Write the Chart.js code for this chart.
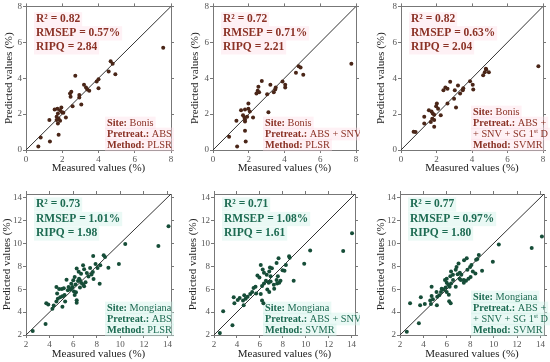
<!DOCTYPE html>
<html>
<head>
<meta charset="utf-8">
<script src="https://cdn.jsdelivr.net/npm/chart.js@4.4.1/dist/chart.umd.min.js"></script>
<style>
  html, body { margin: 0; padding: 0; background: #fff; }
  body { position: relative; width: 550px; height: 362px; overflow: hidden; }
  canvas { position: absolute; }
</style>
</head>
<body>
<canvas id="c1"></canvas>
<canvas id="c2"></canvas>
<canvas id="c3"></canvas>
<canvas id="c4"></canvas>
<canvas id="c5"></canvas>
<canvas id="c6"></canvas>
<script>
// axes
const bonisTicks = [0, 2, 4, 6, 8];
const bonisRange = [0, 8];
const mongianaTicks = [2, 4, 6, 8, 10, 12, 14];
const mongianaRange = [2, 14.3];

// Bonis - PLSR - ABS
const bonisPlsrAbsMeasured = [7.57, 4.67, 4.78, 4.93, 4.56, 4.0, 3.9, 4.0, 3.31, 3.38, 3.49, 3.2, 2.72, 2.94, 2.94, 2.5, 2.43, 2.46, 2.57, 3.05, 2.2, 1.95, 1.88, 1.99, 2.06, 1.58, 1.73, 1.76, 1.69, 1.8, 1.69, 1.88, 1.76, 1.29, 1.8, 1.32, 0.81, 0.68];
const bonisPlsrAbsPredicted = [5.7, 4.94, 4.81, 4.22, 4.37, 3.94, 3.81, 3.44, 3.48, 3.37, 3.3, 3.63, 4.13, 3.07, 2.93, 3.24, 3.15, 2.96, 2.44, 2.54, 1.81, 2.37, 2.22, 2.11, 2.07, 2.26, 2.3, 2.04, 1.85, 1.74, 1.67, 1.63, 1.48, 1.67, 0.85, 0.48, 0.69, 0.19];

// Bonis - PLSR - ABS + SNV
const bonisPlsrSnvMeasured = [7.74, 4.79, 4.9, 4.64, 5.05, 4.04, 4.04, 3.89, 3.51, 3.48, 3.4, 3.21, 2.73, 2.54, 2.5, 2.43, 2.58, 3.03, 3.1, 2.24, 1.98, 1.98, 2.06, 1.79, 1.57, 1.68, 1.76, 1.79, 1.91, 1.79, 1.31, 1.79, 1.83, 0.9, 1.35];
const bonisPlsrSnvPredicted = [4.81, 4.67, 4.59, 4.3, 4.19, 3.48, 3.63, 3.81, 3.48, 3.37, 3.22, 3.63, 3.85, 3.52, 3.3, 3.15, 3.22, 3.11, 2.11, 1.81, 2.59, 2.3, 2.15, 2.26, 2.22, 1.93, 1.81, 1.7, 1.85, 1.59, 1.63, 1.07, 0.48, 0.74, 0.19];

// Bonis - SVMR - ABS + SNV + SG 1st D
const bonisSvmrSgMeasured = [7.74, 4.63, 4.72, 4.8, 4.95, 4.78, 3.89, 4.04, 4.07, 3.51, 3.48, 3.21, 3.03, 3.33, 2.77, 2.5, 2.62, 2.39, 2.99, 2.62, 3.1, 2.24, 2.02, 1.98, 2.09, 1.57, 1.72, 1.79, 1.87, 1.76, 1.87, 1.68, 1.31, 1.31, 1.87, 0.71, 0.82];
const bonisSvmrSgPredicted = [4.67, 4.17, 4.33, 4.48, 4.33, 4.52, 3.83, 3.63, 3.37, 3.44, 3.33, 3.59, 3.33, 3.15, 3.8, 3.48, 3.41, 3.33, 2.85, 2.59, 2.37, 1.94, 2.59, 2.44, 2.3, 2.22, 2.15, 2.04, 1.96, 1.74, 1.67, 1.56, 1.85, 1.48, 1.3, 1.02, 1.0];

// Mongiana - PLSR - ABS
const mongianaPlsrAbsMeasured = [14.09, 13.23, 10.42, 9.88, 8.59, 8.7, 8.99, 8.3, 7.7, 7.9, 8.07, 7.44, 7.67, 7.56, 7.73, 8.25, 6.84, 6.93, 7.16, 6.67, 6.3, 6.47, 6.13, 6.58, 6.41, 6.7, 6.93, 6.58, 6.01, 5.84, 5.61, 5.95, 5.78, 6.07, 6.24, 6.13, 6.3, 6.3, 5.44, 5.04, 5.21, 5.27, 5.09, 5.32, 5.09, 4.58, 4.81, 4.64, 4.7, 4.58, 4.35, 3.72, 3.89, 4.24, 3.66, 2.57, 6.5, 6.85, 7.05, 5.55, 6.2, 7.3, 5.9, 4.9];
const mongianaPlsrAbsPredicted = [11.48, 9.76, 9.93, 8.2, 8.95, 8.8, 7.86, 8.09, 8.9, 8.2, 7.85, 7.85, 7.5, 7.28, 6.88, 6.48, 8.09, 7.74, 7.4, 7.34, 7.8, 7.51, 7.05, 6.77, 6.71, 6.54, 6.25, 6.14, 6.77, 6.48, 6.19, 6.19, 5.96, 5.79, 5.73, 5.5, 5.04, 4.81, 6.83, 6.02, 6.07, 5.5, 5.39, 4.93, 4.47, 6.19, 6.02, 5.62, 5.16, 4.93, 4.58, 4.78, 4.67, 4.3, 2.97, 2.34, 6.9, 6.4, 6.6, 5.9, 6.4, 7.1, 6.1, 5.3];

// Mongiana - SVMR - ABS + SNV
const mongianaSvmrSnvMeasured = [14.04, 13.27, 10.39, 9.87, 8.95, 8.55, 8.6, 8.27, 7.98, 8.15, 7.63, 7.46, 7.57, 6.88, 7.05, 6.82, 6.94, 6.08, 6.25, 6.36, 6.6, 5.79, 5.96, 6.53, 6.77, 6.94, 7.22, 7.46, 7.51, 7.69, 7.8, 7.25, 6.36, 6.19, 6.65, 6.82, 6.08, 6.19, 6.31, 5.62, 5.45, 5.33, 5.16, 5.68, 4.64, 4.76, 4.93, 4.53, 4.59, 4.24, 3.72, 3.78, 4.07, 2.8, 3.61, 2.51];
const mongianaSvmrSnvPredicted = [10.88, 9.32, 9.38, 8.22, 6.73, 8.86, 8.74, 8.1, 7.65, 7.6, 8.69, 8.29, 7.13, 7.88, 7.82, 7.54, 7.13, 8.11, 7.71, 7.42, 7.25, 7.19, 7.02, 6.73, 6.56, 6.67, 6.38, 6.79, 6.5, 6.56, 6.73, 6.04, 6.5, 6.27, 5.98, 5.75, 5.58, 5.0, 4.77, 6.21, 6.09, 5.75, 5.58, 5.63, 5.46, 5.17, 5.34, 5.0, 4.6, 5.23, 5.29, 4.77, 5.06, 4.07, 2.86, 2.17];

// Mongiana - SVMR - ABS + SNV + SG 1st D
const mongianaSvmrSgMeasured = [14.12, 13.25, 10.44, 9.93, 9.01, 8.73, 8.61, 8.5, 7.99, 8.1, 7.76, 8.22, 8.44, 7.7, 7.47, 8.03, 7.85, 7.64, 7.0, 6.83, 6.76, 7.11, 6.92, 7.24, 6.36, 6.52, 6.3, 7.09, 7.2, 7.45, 7.45, 6.53, 6.36, 6.24, 6.76, 5.99, 5.84, 5.99, 6.12, 5.9, 5.73, 5.99, 6.17, 6.2, 6.33, 5.56, 5.5, 5.35, 5.12, 5.18, 4.7, 4.7, 4.81, 4.58, 4.64, 5.15, 3.78, 3.72, 4.12, 2.86, 3.61, 2.58];
const mongianaSvmrSgPredicted = [10.6, 9.6, 9.9, 8.38, 7.6, 8.98, 8.63, 8.57, 7.94, 8.11, 7.7, 7.53, 7.36, 8.69, 8.52, 7.07, 6.9, 6.73, 8.23, 7.94, 7.7, 7.42, 7.3, 7.25, 7.53, 7.25, 7.13, 6.9, 6.79, 6.79, 6.56, 6.79, 6.5, 6.21, 6.21, 6.9, 6.79, 6.56, 6.38, 6.15, 5.98, 5.75, 5.52, 4.94, 4.77, 6.04, 5.75, 5.46, 5.75, 5.34, 6.21, 5.4, 5.11, 5.0, 4.71, 4.6, 5.29, 4.59, 4.71, 4.76, 3.03, 2.29];

// statistiques affichées dans chaque panneau
const r2Values = ['0.82', '0.72', '0.82', '0.73', '0.71', '0.77'];
const rmsepValues = ['0.57', '0.71', '0.63', '1.01', '1.08', '0.97'];
const ripqValues = ['2.84', '2.21', '2.04', '1.98', '1.61', '1.80'];
const siteNames = ['Bonis', 'Bonis', 'Bonis', 'Mongiana', 'Mongiana', 'Mongiana'];
const pretreatments = [['ABS'], ['ABS + SNV'], ['ABS +', '+ SNV + SG 1^st D'], ['ABS'], ['ABS + SNV'], ['ABS +', '+ SNV + SG 1^st D']];
const methodNames = ['PLSR', 'PLSR', 'SVMR', 'PLSR', 'SVMR', 'SVMR'];

Chart.defaults.font.family = "'Liberation Serif', 'Times New Roman', serif";

// styles des deux lignes
const bonisStyle = { text: '#8b3226', point: '#4a2618', mark: 'rgba(252, 218, 230, 0.38)', ticks: bonisTicks, range: bonisRange, statsTop: 13, statsStep: 14 };
const mongianaStyle = { text: '#1d6b52', point: '#164d38', mark: 'rgba(205, 240, 230, 0.42)', ticks: mongianaTicks, range: mongianaRange, statsTop: 10.5, statsStep: 14.5 };

// position de chaque panneau (canvas + zone de tracé)
const panels = [
  { id: 'c1', left: 0, top: 0, w: 180, h: 180, plot: [26, 6, 171, 150], titleX: 9.5, titleY: 168, textRight: 64, style: bonisStyle, mx: bonisPlsrAbsMeasured, py: bonisPlsrAbsPredicted },
  { id: 'c2', left: 180, top: 0, w: 180, h: 180, plot: [213, 6, 356, 150], titleX: 195, titleY: 168, textRight: 91, style: bonisStyle, mx: bonisPlsrSnvMeasured, py: bonisPlsrSnvPredicted },
  { id: 'c3', left: 360, top: 0, w: 190, h: 180, plot: [401, 6, 543, 150], titleX: 381, titleY: 168, textRight: 70, style: bonisStyle, mx: bonisSvmrSgMeasured, py: bonisSvmrSgPredicted },
  { id: 'c4', left: 0, top: 180, w: 180, h: 182, plot: [26, 194, 171, 335], titleX: 7, titleY: 354, textRight: 64, style: mongianaStyle, mx: mongianaPlsrAbsMeasured, py: mongianaPlsrAbsPredicted },
  { id: 'c5', left: 180, top: 180, w: 180, h: 182, plot: [214, 194, 355, 335], titleX: 193, titleY: 354, textRight: 90, style: mongianaStyle, mx: mongianaSvmrSnvMeasured, py: mongianaSvmrSnvPredicted },
  { id: 'c6', left: 360, top: 180, w: 190, h: 182, plot: [400, 194, 544, 335], titleX: 381, titleY: 354, textRight: 71, style: mongianaStyle, mx: mongianaSvmrSgMeasured, py: mongianaSvmrSgPredicted }
];

// découpe "1^st" en morceaux normal / exposant
function splitSup(txt) {
  const parts = txt.split(/\^(\w+)/);
  return parts.map((t, i) => ({ t: t, sup: i % 2 === 1 })).filter(s => s.t !== '');
}

function fontOf(seg, size) {
  const s = seg.sup ? size * 0.6 : size;
  return (seg.b ? 'bold ' : '') + s + "px 'Liberation Serif', serif";
}

function drawLine(ctx, segs, x, y, size, color, mark, bgOnly) {
  let w = 0;
  segs.forEach(seg => { ctx.font = fontOf(seg, size); w += ctx.measureText(seg.t).width; });
  if (bgOnly) {
    ctx.fillStyle = mark;
    ctx.fillRect(x - 2, y - size * 0.62, w + 4, size * 1.24);
    return;
  }
  let cx = x;
  ctx.fillStyle = color;
  ctx.textBaseline = 'middle';
  ctx.textAlign = 'left';
  segs.forEach(seg => {
    ctx.font = fontOf(seg, size);
    ctx.fillText(seg.t, cx, seg.sup ? y - size * 0.3 : y);
    cx += ctx.measureText(seg.t).width;
  });
}

// plugin pour le texte des panneaux
const panelText = {
  id: 'panelText',
  draw(chart, o, bgOnly) {
    const ctx = chart.ctx;
    const a = chart.chartArea;
    const st = o.style;
    ctx.save();
    const stats = ['R² = ' + r2Values[o.k], 'RMSEP = ' + rmsepValues[o.k] + '%', 'RIPQ = ' + ripqValues[o.k]];
    stats.forEach((t, i) => {
      drawLine(ctx, [{ t: t, b: true }], a.left + 10, a.top + st.statsTop + i * st.statsStep, 11.5, st.text, st.mark, bgOnly);
    });
    const lines = [];
    lines.push([{ t: 'Site: ', b: true }, { t: siteNames[o.k] }]);
    pretreatments[o.k].forEach((p, i) => {
      const segs = splitSup(p);
      lines.push(i === 0 ? [{ t: 'Pretreat.: ', b: true }].concat(segs) : segs);
    });
    lines.push([{ t: 'Method: ', b: true }, { t: methodNames[o.k] }]);
    const x0 = a.right - o.textRight;
    lines.forEach((segs, i) => {
      const y = a.bottom - 5 - (lines.length - 1 - i) * 11;
      drawLine(ctx, segs, x0, y, 10.3, st.text, st.mark, bgOnly);
    });
    ctx.restore();
  },
  beforeDatasetsDraw(chart, args, o) { this.draw(chart, o, true); },
  afterDatasetsDraw(chart, args, o) { this.draw(chart, o, false); }
};

panels.forEach((p, k) => {
  const cv = document.getElementById(p.id);
  cv.width = p.w;
  cv.height = p.h;
  cv.style.left = p.left + 'px';
  cv.style.top = p.top + 'px';
  const st = p.style;
  const [pl, pt, pr, pb] = p.plot;
  const padL = p.titleX - p.left - 6.6;
  const yW = pl - p.left - padL;
  const padR = p.left + p.w - pr - 4;
  const padT = pt - p.top - 4;
  const xH = p.top + p.h - pb;
  const xTitlePad = p.top + p.h - p.titleY - 6.6;
  const setTicks = s => { s.ticks = st.ticks.map(v => ({ value: v })); };
  const axisCommon = {
    type: 'linear', min: st.range[0], max: st.range[1],
    afterBuildTicks: setTicks,
    grid: { drawOnChartArea: false, tickLength: 3, color: '#777' },
    border: { color: '#777', width: 1 }
  };
  const points = p.mx.map((m, i) => ({ x: m, y: p.py[i] }));

  new Chart(cv, {
    type: 'scatter',
    data: {
      datasets: [
        { type: 'line', data: [{ x: st.range[0], y: st.range[0] }, { x: st.range[1], y: st.range[1] }], borderColor: '#333', borderWidth: 1, pointRadius: 0, xAxisID: 'x', yAxisID: 'y', order: 2 },
        { data: points, backgroundColor: st.point, borderColor: st.point, borderWidth: 0, pointRadius: 2, xAxisID: 'x', yAxisID: 'y', order: 1 }
      ]
    },
    options: {
      responsive: false,
      animation: false,
      devicePixelRatio: 1,
      layout: { padding: { left: padL, right: padR, top: padT, bottom: 0 } },
      plugins: {
        legend: { display: false },
        tooltip: { enabled: false },
        panelText: { k: k, style: st, textRight: p.textRight }
      },
      scales: {
        x: Object.assign({}, axisCommon, {
          position: 'bottom',
          afterFit: s => { s.height = xH; },
          ticks: { color: '#555', font: { size: 9 }, padding: 1, maxRotation: 0 },
          title: { display: true, text: 'Measured values (%)', color: '#222', font: { size: 11 }, padding: { top: 0, bottom: xTitlePad } }
        }),
        x2: Object.assign({}, axisCommon, {
          position: 'top',
          afterFit: s => { s.height = 4; },
          ticks: { display: false }
        }),
        y: Object.assign({}, axisCommon, {
          position: 'left',
          afterFit: s => { s.width = yW; },
          ticks: { color: '#555', font: { size: 9 }, padding: 1 },
          title: { display: true, text: 'Predicted values (%)', color: '#222', font: { size: 11 }, padding: { top: 0, bottom: 0 } }
        }),
        y2: Object.assign({}, axisCommon, {
          position: 'right',
          afterFit: s => { s.width = 4; },
          ticks: { display: false }
        })
      }
    },
    plugins: [panelText]
  });
});
</script>
</body>
</html>
